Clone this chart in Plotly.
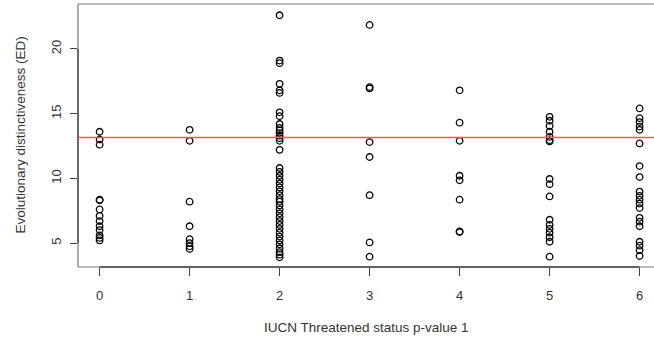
import plotly.graph_objects as go

# Threat-status category (p-value 1) on x, evolutionary distinctiveness on y
status_0 = [13.6, 13.0, 12.6, 8.35, 8.3, 7.6, 7.1, 6.7, 6.3, 6.0, 5.6, 5.4, 5.2]
status_1 = [13.75, 12.9, 8.2, 6.3, 5.3, 5.0, 4.75, 4.55]
status_2 = [22.6, 19.1, 18.9, 17.3, 16.8, 16.6, 15.1, 14.8, 14.2, 13.9, 13.7,
            13.5, 13.3, 13.1, 12.9, 12.2, 10.8, 10.5, 10.2, 9.9, 9.6, 9.3, 9.0,
            8.7, 8.4, 8.2, 7.9, 7.6, 7.3, 7.0, 6.7, 6.4, 6.1, 5.8, 5.5, 5.2,
            4.9, 4.6, 4.3, 4.1, 3.9]
status_3 = [21.85, 17.05, 16.95, 12.8, 11.65, 8.7, 5.05, 3.95]
status_4 = [16.8, 14.3, 12.9, 10.2, 9.85, 8.35, 5.9, 5.85]
status_5 = [14.75, 14.45, 14.05, 13.6, 13.2, 12.95, 12.85, 9.95, 9.55, 8.6,
            6.8, 6.4, 6.1, 5.8, 5.45, 5.1, 3.95]
status_6 = [15.4, 14.65, 14.35, 14.0, 13.75, 12.7, 10.95, 10.1, 8.98, 8.65,
            8.35, 8.05, 7.7, 6.95, 6.65, 6.3, 5.1, 4.8, 4.45, 4.0]

groups = [status_0, status_1, status_2, status_3, status_4, status_5, status_6]
x_ticks = [0, 1, 2, 3, 4, 5, 6]
y_ticks = [5, 10, 15, 20]
mean_ed = 13.15

xs, ys = [], []
for cat, vals in zip(x_ticks, groups):
    xs += [cat] * len(vals)
    ys += vals

fig = go.Figure()
fig.add_trace(go.Scatter(
    x=xs, y=ys, mode="markers",
    marker=dict(symbol="circle-open", size=6.5, color="black",
                line=dict(width=1.3, color="black")),
    hoverinfo="skip", showlegend=False,
))

font = dict(family="Liberation Sans, Arial, sans-serif", size=13, color="#333333")
title_font = dict(family="Liberation Sans, Arial, sans-serif", size=13.5, color="#333333")
frame = "#777777"
axis_col = "#444444"

# plot frame (left, top, bottom) and the red reference line
fig.add_shape(type="line", xref="paper", yref="paper", x0=0, x1=0, y0=0, y1=1,
              line=dict(color=frame, width=1.2))
fig.add_shape(type="line", xref="paper", yref="paper", x0=0, x1=1, y0=1, y1=1,
              line=dict(color=frame, width=1.2))
fig.add_shape(type="line", xref="paper", yref="paper", x0=0, x1=1, y0=0, y1=0,
              line=dict(color=frame, width=1.2))
fig.add_shape(type="line", xref="x", yref="paper", x0=x_ticks[0], x1=x_ticks[-1],
              y0=0, y1=0, line=dict(color=axis_col, width=1.3))
fig.add_shape(type="line", xref="paper", yref="y", x0=0, x1=0,
              y0=y_ticks[0], y1=y_ticks[-1], line=dict(color=axis_col, width=1.3))
fig.add_shape(type="line", xref="paper", yref="y", x0=0, x1=1,
              y0=mean_ed, y1=mean_ed, line=dict(color="rgb(255,85,85)", width=1.4))

fig.update_xaxes(range=[-0.24, 6.16], tickvals=x_ticks, ticks="outside",
                 ticklen=8, tickwidth=1.2, tickcolor=axis_col, showgrid=False,
                 zeroline=False, showline=False, tickfont=font,
                 ticklabelstandoff=8)
fig.update_yaxes(range=[3.15, 23.47], tickvals=y_ticks, ticks="outside",
                 ticklen=7, tickwidth=1.2, tickcolor=axis_col, showgrid=False,
                 zeroline=False, showline=False, tickfont=font, tickangle=-90,
                 ticklabelstandoff=4)

fig.add_annotation(text="IUCN Threatened status p-value 1", xref="paper",
                   yref="paper", x=0.5, y=0, yshift=-60, showarrow=False,
                   font=title_font, xanchor="center", yanchor="middle")
fig.add_annotation(text="Evolutionary distinctiveness (ED)", xref="paper",
                   yref="paper", x=0, xshift=-58, y=0.5, textangle=-90,
                   showarrow=False, font=title_font, xanchor="center", yanchor="middle")

fig.update_layout(
    width=654, height=343,
    margin=dict(l=78, r=0, t=4, b=76, autoexpand=False),
    plot_bgcolor="white", paper_bgcolor="white",
)

fig.write_html("out.html")
